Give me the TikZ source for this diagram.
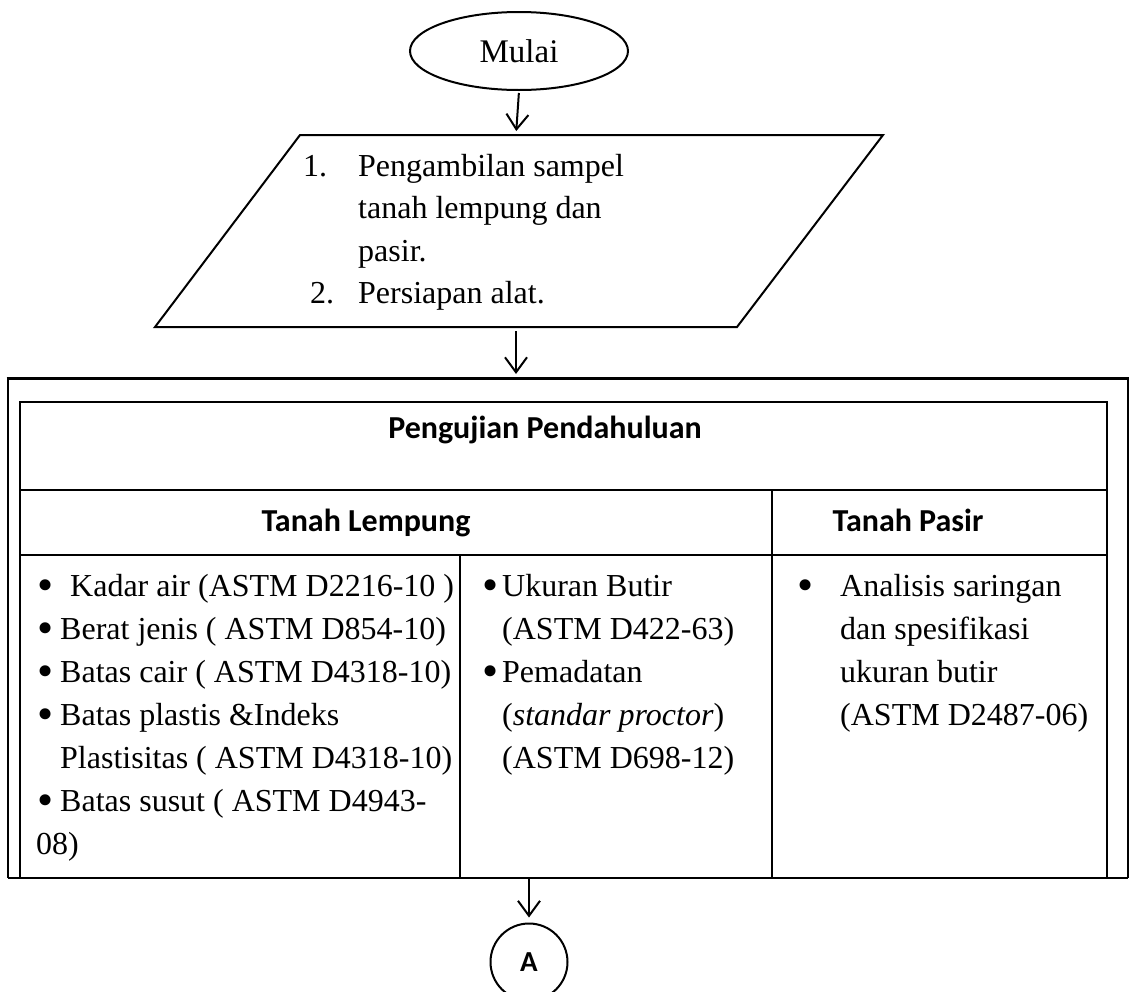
\documentclass[tikz,border=0pt]{standalone}
\usepackage{fontspec}
\setmainfont{Liberation Serif}
\newfontfamily\calfont{Carlito}
\usetikzlibrary{arrows.meta,shapes.geometric}
\begin{document}
\begin{tikzpicture}[x=1pt,y=-1pt,
  thin line/.style={line width=2pt},
  flow/.style={line width=2pt,-{Straight Barb[length=15pt,width=22pt,line width=2pt]}},
  txt/.style={anchor=base west,inner sep=0pt,font=\fontsize{32}{43}\selectfont},
  bul/.style={anchor=base,inner sep=0pt,font=\fontsize{46}{46}\selectfont},
  hdr/.style={anchor=base,inner sep=0pt,font=\calfont\bfseries\fontsize{32}{38}\selectfont}]
\useasboundingbox (0,0) rectangle (1129,991);
% start
\node[draw,ellipse,line width=2pt,minimum width=218pt,minimum height=78pt,inner sep=0pt,
  font=\fontsize{33}{43}\selectfont] (start) at (519,51) {Mulai};
% parallelogram
\coordinate (p1) at (300,135);
\coordinate (p2) at (883,135);
\coordinate (p3) at (737,327);
\coordinate (p4) at (155,327);
\draw[thin line,line join=miter] (p1) -- (p2) -- (p3) -- (p4) -- cycle;
\coordinate (paratop) at (516,135);
\coordinate (parabot) at (516,327);
\node[txt] (n1) at (303,176) {1.};
\node[txt] (l1) at (358,176) {Pengambilan sampel};
\node[txt] (l2) at (358,218) {tanah lempung dan};
\node[txt] (l3) at (358,261) {pasir.};
\node[txt] (n2) at (310,303) {2.};
\node[txt] (l4) at (358,303) {Persiapan alat.};
% outer box
\coordinate (boxtop) at (516,378);
\draw[line width=2pt] (8,878) -- (8,378);
\draw[line width=3pt] (6.5,378) -- (1129.5,378);
\draw[line width=2pt] (1128,378) -- (1128,878);
\draw[line width=2pt] (8,878) -- (1128,878);
% inner table
\draw[thin line] (20,402) rectangle (1107,878);
\draw[thin line] (20,490) -- (1107,490);
\draw[thin line] (20,555) -- (1107,555);
\draw[thin line] (772,490) -- (772,878);
\draw[thin line] (460,555) -- (460,878);
\node[hdr] (h1) at (545,438) {Pengujian Pendahuluan};
\node[hdr] (h2) at (366,531) {Tanah Lempung};
\node[hdr] (h3) at (908,531) {Tanah Pasir};
% column 1
\node[bul] (b11) at (46,600) {\textbullet};
\node[txt] (c11) at (70,596) {Kadar air (ASTM D2216-10 )};
\node[bul] (b12) at (46,643) {\textbullet};
\node[txt] (c12) at (60,639) {Berat jenis ( ASTM D854-10)};
\node[bul] (b13) at (46,686) {\textbullet};
\node[txt] (c13) at (60,682) {Batas cair ( ASTM D4318-10)};
\node[bul] (b14) at (46,729) {\textbullet};
\node[txt] (c14) at (60,725) {Batas plastis \&Indeks};
\node[txt] (c15) at (60,768) {Plastisitas ( ASTM D4318-10)};
\node[bul] (b16) at (46,815) {\textbullet};
\node[txt] (c16) at (60,811) {Batas susut ( ASTM D4943-};
\node[txt] (c17) at (36,854) {08)};
% column 2
\node[bul] (b21) at (491,600) {\textbullet};
\node[txt] (c21) at (502,596) {Ukuran Butir};
\node[txt] (c22) at (502,639) {(ASTM D422-63)};
\node[bul] (b23) at (491,686) {\textbullet};
\node[txt] (c23) at (502,682) {Pemadatan};
\node[txt] (c24) at (502,725) {(\textit{standar proctor})};
\node[txt] (c25) at (502,768) {(ASTM D698-12)};
% column 3
\node[bul] (b31) at (806,600) {\textbullet};
\node[txt] (c31) at (840,596) {Analisis saringan};
\node[txt] (c32) at (840,639) {dan spesifikasi};
\node[txt] (c33) at (840,682) {ukuran butir};
\node[txt] (c34) at (840,725) {(ASTM D2487-06)};
% connector A
\coordinate (tblbot) at (529,878);
\node[draw,circle,line width=2pt,minimum size=77pt,inner sep=0pt,
  font=\calfont\bfseries\fontsize{29}{34}\selectfont] (A) at (529,962) {A};
% arrows
\draw[flow,shorten >=4pt,shorten <=2pt] (start.south) -- (paratop);
\draw[flow,shorten >=4pt,shorten <=4pt] (parabot) -- (boxtop);
\draw[flow,shorten >=5pt] (tblbot) -- (A.north);
\end{tikzpicture}
\end{document}
